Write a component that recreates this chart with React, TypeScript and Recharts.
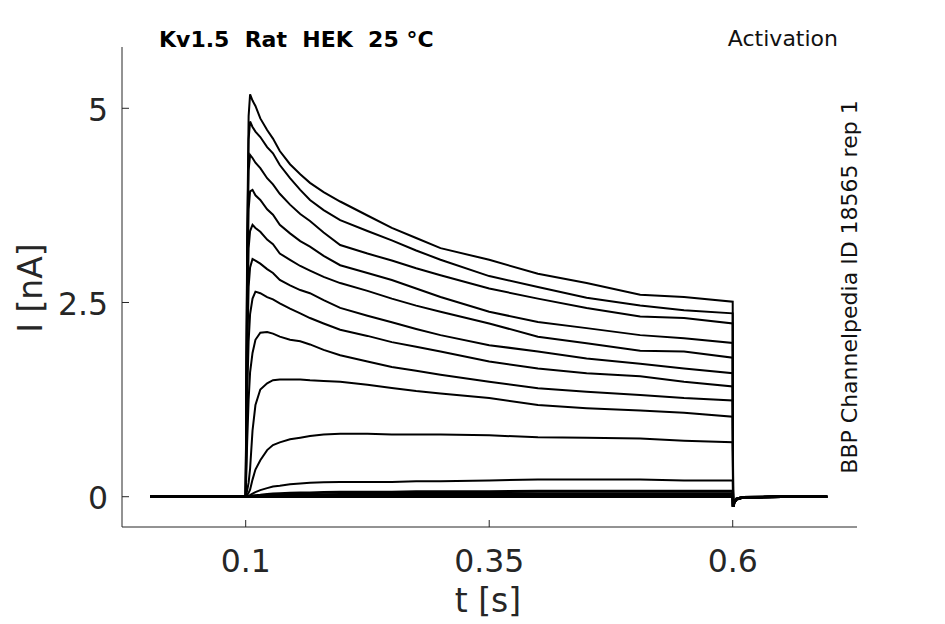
import React from "react";
import { LineChart, Line, XAxis, YAxis } from "recharts";

// time base (s): before the step, during the step, tail after the step
const PRE_T = [0.002, 0.05, 0.1];
const PULSE_T = [
  0.1015, 0.103, 0.1045, 0.107, 0.11, 0.115, 0.122, 0.128, 0.135, 0.1455, 0.156, 0.166,
  0.18, 0.197, 0.225, 0.25, 0.275, 0.3, 0.35, 0.4, 0.45, 0.505, 0.55, 0.6,
];
const POST_T = [0.6004, 0.6015, 0.604, 0.61, 0.65, 0.697];

const PRE_I = [0, 0, 0];
const POST_I = [-0.13, -0.07, -0.03, -0.01, 0, 0];

// current (nA) per sweep at PULSE_T
const SWEEP_1 = [3.3, 4.9, 5.18, 5.1, 5.03, 4.87, 4.72, 4.61, 4.45, 4.28, 4.15, 4.04, 3.92, 3.8, 3.62, 3.46, 3.33, 3.2, 3.05, 2.87, 2.75, 2.6, 2.57, 2.51];
const SWEEP_2 = [3.1, 4.6, 4.83, 4.76, 4.7, 4.63, 4.5, 4.42, 4.27, 4.1, 3.95, 3.82, 3.69, 3.56, 3.42, 3.3, 3.17, 3.05, 2.84, 2.7, 2.56, 2.46, 2.4, 2.36];
const SWEEP_3 = [2.9, 4.2, 4.4, 4.36, 4.3, 4.23, 4.1, 4.02, 3.9, 3.76, 3.64, 3.55, 3.4, 3.24, 3.13, 3.04, 2.94, 2.85, 2.68, 2.55, 2.43, 2.32, 2.3, 2.23];
const SWEEP_4 = [2.6, 3.7, 3.93, 3.95, 3.88, 3.82, 3.7, 3.63, 3.5, 3.39, 3.29, 3.22, 3.1, 2.98, 2.88, 2.79, 2.68, 2.57, 2.38, 2.25, 2.17, 2.08, 2.04, 1.98];
const SWEEP_5 = [2.2, 3.2, 3.42, 3.5, 3.46, 3.41, 3.31, 3.25, 3.13, 3.05, 2.97, 2.91, 2.83, 2.75, 2.65, 2.55, 2.46, 2.38, 2.23, 2.06, 1.975, 1.88, 1.87, 1.79];
const SWEEP_6 = [1.8, 2.7, 2.95, 3.06, 3.04, 3.0, 2.93, 2.88, 2.79, 2.72, 2.66, 2.62, 2.53, 2.43, 2.33, 2.245, 2.16, 2.08, 1.95, 1.87, 1.78, 1.71, 1.65, 1.59];
const SWEEP_7 = [1.3, 2.0, 2.35, 2.55, 2.64, 2.62, 2.57, 2.54, 2.49, 2.42, 2.36, 2.3, 2.23, 2.15, 2.07, 1.99, 1.93, 1.87, 1.74, 1.65, 1.59, 1.55, 1.48, 1.42];
const SWEEP_8 = [0.7, 1.25, 1.6, 1.85, 2.02, 2.11, 2.12, 2.1, 2.06, 2.02, 2.0, 1.96, 1.89, 1.82, 1.74, 1.67, 1.62, 1.57, 1.48, 1.395, 1.35, 1.31, 1.27, 1.24];
const SWEEP_9 = [0.08, 0.18, 0.36, 0.85, 1.18, 1.38, 1.46, 1.5, 1.51, 1.51, 1.51, 1.5, 1.49, 1.48, 1.44, 1.4, 1.36, 1.33, 1.27, 1.18, 1.14, 1.11, 1.08, 1.03];
const SWEEP_10 = [0.02, 0.05, 0.09, 0.22, 0.35, 0.47, 0.6, 0.665, 0.7, 0.74, 0.76, 0.78, 0.8, 0.81, 0.81, 0.8, 0.8, 0.8, 0.79, 0.765, 0.76, 0.75, 0.72, 0.7];
const SWEEP_11 = [0.003, 0.008, 0.02, 0.04, 0.06, 0.085, 0.11, 0.13, 0.14, 0.16, 0.17, 0.18, 0.185, 0.19, 0.19, 0.19, 0.2, 0.2, 0.21, 0.22, 0.22, 0.22, 0.21, 0.21];
const SWEEP_12 = [0, 0, 0.005, 0.01, 0.015, 0.02, 0.03, 0.035, 0.04, 0.045, 0.05, 0.05, 0.055, 0.06, 0.06, 0.06, 0.065, 0.065, 0.065, 0.07, 0.07, 0.07, 0.07, 0.07];
const SWEEP_13 = [0, 0, 0, 0.005, 0.008, 0.01, 0.015, 0.018, 0.02, 0.022, 0.025, 0.025, 0.028, 0.03, 0.03, 0.03, 0.032, 0.032, 0.035, 0.035, 0.035, 0.035, 0.035, 0.035];
const SWEEP_14 = [0, 0, 0, 0, 0, 0.003, 0.005, 0.006, 0.008, 0.01, 0.01, 0.01, 0.012, 0.012, 0.012, 0.012, 0.015, 0.015, 0.015, 0.015, 0.015, 0.015, 0.015, 0.015];
const SWEEP_15 = [0, 0, 0, 0, 0, 0, 0, 0, 0, 0, 0, 0, 0, 0, 0, 0, 0, 0, 0, 0, 0, 0, 0, 0];

const SWEEPS = [
  SWEEP_1, SWEEP_2, SWEEP_3, SWEEP_4, SWEEP_5, SWEEP_6, SWEEP_7, SWEEP_8,
  SWEEP_9, SWEEP_10, SWEEP_11, SWEEP_12, SWEEP_13, SWEEP_14, SWEEP_15,
];

const X_TICKS = [0.1, 0.35, 0.6];
const X_TICK_LABELS = ["0.1", "0.35", "0.6"];
const Y_TICKS = [0, 2.5, 5];
const Y_TICK_LABELS = ["0", "2.5", "5"];

const TITLE = "Kv1.5  Rat  HEK  25 °C";
const PROTOCOL = "Activation";
const SOURCE = "BBP Channelpedia ID 18565 rep 1";

const X_DOMAIN: [number, number] = [-0.027, 0.7276];
const Y_DOMAIN: [number, number] = [-0.39, 5.789];

const AXIS = "#262626";
const FONT = '"DejaVu Sans", sans-serif';

const TIMES = [...PRE_T, ...PULSE_T, ...POST_T];
const rows = TIMES.map((t, i) => {
  const row: Record<string, number> = { t };
  SWEEPS.forEach((s, k) => {
    row[`s${k}`] = [...PRE_I, ...s, ...POST_I][i];
  });
  return row;
});

function XTick({ x, y, payload }: any) {
  const idx = X_TICKS.indexOf(payload.value);
  return (
    <g>
      <line x1={x} y1={y} x2={x} y2={y - 7} stroke={AXIS} strokeWidth={1} />
      <text x={x} y={y + 45} textAnchor="middle" fontSize={31.5} fill={AXIS} fontFamily={FONT}>
        {X_TICK_LABELS[idx] ?? payload.value}
      </text>
    </g>
  );
}

function YTick({ x, y, payload }: any) {
  const idx = Y_TICKS.indexOf(payload.value);
  return (
    <g>
      <line x1={x} y1={y} x2={x + 7} y2={y} stroke={AXIS} strokeWidth={1} />
      <text x={x - 14} y={y + 12.5} textAnchor="end" fontSize={31.5} fill={AXIS} fontFamily={FONT}>
        {Y_TICK_LABELS[idx] ?? payload.value}
      </text>
    </g>
  );
}

export default function App() {
  return (
    <div style={{ position: "absolute", left: 0, top: 0, width: 945, height: 624, background: "#fff" }}>
      <LineChart width={945} height={624} data={rows} margin={{ top: 47, right: 88, bottom: 37, left: 0 }}>
        <XAxis
          type="number"
          dataKey="t"
          domain={X_DOMAIN}
          ticks={X_TICKS}
          allowDataOverflow
          height={60}
          tickSize={0}
          tickMargin={0}
          tickLine={false}
          axisLine={{ stroke: AXIS, strokeWidth: 1 }}
          tick={XTick}
        />
        <YAxis
          type="number"
          domain={Y_DOMAIN}
          ticks={Y_TICKS}
          allowDataOverflow
          width={122}
          tickSize={0}
          tickMargin={0}
          tickLine={false}
          axisLine={{ stroke: AXIS, strokeWidth: 1 }}
          tick={YTick}
        />
        {SWEEPS.map((_, k) => (
          <Line
            key={k}
            type="linear"
            dataKey={`s${k}`}
            stroke="#000"
            strokeWidth={k >= 11 ? 2.8 : 2}
            dot={false}
            activeDot={false}
            isAnimationActive={false}
          />
        ))}
      </LineChart>

      {/* titles and axis labels */}
      <svg
        width={945}
        height={624}
        style={{ position: "absolute", left: 0, top: 0, pointerEvents: "none" }}
        fontFamily={FONT}
      >
        <text x={159} y={46.5} fontSize={22} fontWeight="bold" fill="#000" style={{ whiteSpace: "pre" }}>
          {TITLE}
        </text>
        <text x={838} y={46} fontSize={22} textAnchor="end" fill="#111">
          {PROTOCOL}
        </text>
        <text transform="translate(857,287) rotate(-90)" fontSize={22} textAnchor="middle" fill="#111">
          {SOURCE}
        </text>
        <text x={488} y={612} fontSize={33} textAnchor="middle" fill={AXIS}>
          t [s]
        </text>
        <text transform="translate(42,288) rotate(-90)" fontSize={33} textAnchor="middle" fill={AXIS}>
          I [nA]
        </text>
      </svg>
    </div>
  );
}
